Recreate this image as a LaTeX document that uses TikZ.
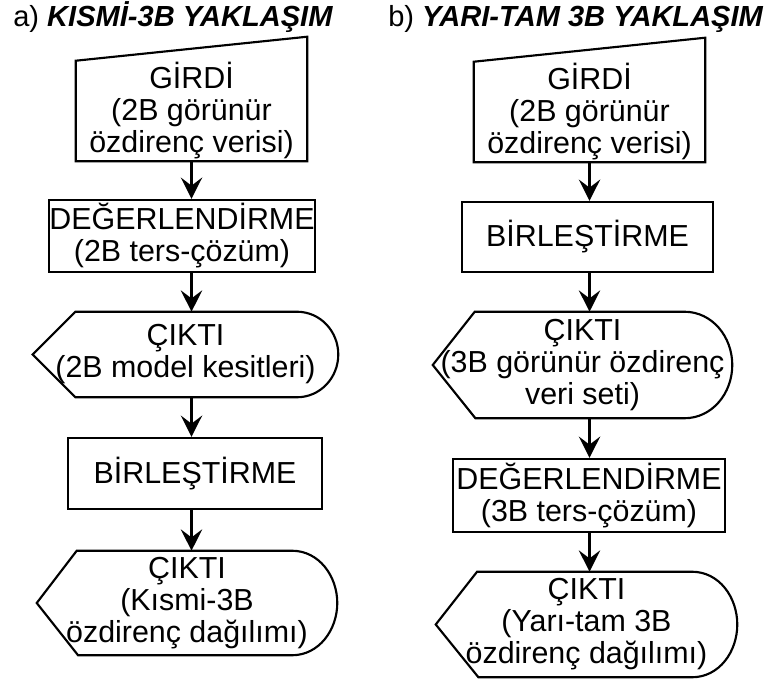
\documentclass[tikz,border=0pt]{standalone}
\usepackage{fontspec}
\setmainfont{Liberation Sans}
\usetikzlibrary{arrows.meta}

\begin{document}
\begin{tikzpicture}[x=0.75pt,y=0.75pt,
  txt/.style={font=\fontsize{22.8}{24}\selectfont, align=center, inner sep=0pt},
  ttl/.style={font=\fontsize{21.8}{24}\selectfont, inner sep=0pt, anchor=base west},
  procbox/.style={txt, draw, line width=1.6pt},
  outl/.style={line width=1.6pt},
  arr/.style={-{Stealth[length=16pt,width=16pt,inset=6pt]}, line width=1.6pt}]
\useasboundingbox (0,0) rectangle (773,680);
% titles
\node[ttl] (ta) at (13,653) {a) \textbf{\textit{KISMİ-3B YAKLAŞIM}}};
\node[ttl] (tb) at (388,653) {b) \textbf{\textit{YARI-TAM 3B YAKLAŞIM}}};
% a) kismi 3B
\node[txt, minimum width=173.25pt, minimum height=75pt] (g1) at (191.5,569) {GİRDİ\\(2B görünür\\özdirenç verisi)};
\node[procbox, minimum width=199.5pt, minimum height=54pt] (d1) at (182,444) {DEĞERLENDİRME\\(2B ters-çözüm)};
\node[txt, minimum width=228.75pt, minimum height=63.75pt] (c1) at (185.5,325.5) {ÇIKTI\\(2B model kesitleri)};
\node[procbox, minimum width=190.5pt, minimum height=53.25pt] (b1) at (195,206.5) {BİRLEŞTİRME};
\node[txt, minimum width=225pt, minimum height=78pt] (c2) at (187,77) {ÇIKTI\\(Kısmi-3B\\özdirenç dağılımı)};
% b) yari-tam 3B
\node[txt, minimum width=173.25pt, minimum height=75pt] (g2) at (589.5,568) {GİRDİ\\(2B görünür\\özdirenç verisi)};
\node[procbox, minimum width=188.25pt, minimum height=52.5pt] (b2) at (587.5,443) {BİRLEŞTİRME};
\node[txt, minimum width=224.25pt, minimum height=79.5pt] (c3) at (582.5,315) {ÇIKTI\\(3B görünür özdirenç\\veri seti)};
\node[procbox, minimum width=204pt, minimum height=54.75pt] (d2) at (589,184.5) {DEĞERLENDİRME\\(3B ters-çözüm)};
\node[txt, minimum width=225.75pt, minimum height=78.75pt] (c4) at (586.5,55.5) {ÇIKTI\\(Yarı-tam 3B\\özdirenç dağılımı)};
% girdi (manual input) outlines
\draw[outl] (g1.south west) -- (g1.north west) -- ([yshift=18pt]g1.north east) -- (g1.south east) -- cycle;
\draw[outl] (g2.south west) -- (g2.north west) -- ([yshift=18pt]g2.north east) -- (g2.south east) -- cycle;
% cikti (display) outlines
\draw[outl] (c1.west) -- ([xshift=32pt]c1.north west) -- ([xshift=-31pt]c1.north east) to[out=0,in=90] (c1.east) to[out=-90,in=0] ([xshift=-31pt]c1.south east) -- ([xshift=32pt]c1.south west) -- cycle;
\draw[outl] (c2.west) -- ([xshift=30pt]c2.north west) -- ([xshift=-34pt]c2.north east) to[out=0,in=90] (c2.east) to[out=-90,in=0] ([xshift=-34pt]c2.south east) -- ([xshift=31pt]c2.south west) -- cycle;
\draw[outl] (c3.west) -- ([xshift=31.5pt]c3.north west) -- ([xshift=-36pt]c3.north east) to[out=0,in=90] (c3.east) to[out=-90,in=0] ([xshift=-36pt]c3.south east) -- ([xshift=32pt]c3.south west) -- cycle;
\draw[outl] (c4.west) -- ([xshift=31pt]c4.north west) -- ([xshift=-34pt]c4.north east) to[out=0,in=90] (c4.east) to[out=-90,in=0] ([xshift=-34pt]c4.south east) -- ([xshift=32pt]c4.south west) -- cycle;
% arrows
\draw[arr] (g1.south) -- (d1.north -| g1);
\draw[arr] (d1.south -| g1) -- (c1.north -| g1);
\draw[arr] (c1.south -| g1) -- (b1.north -| g1);
\draw[arr] (b1.south -| g1) -- (c2.north -| g1);
\draw[arr] (g2.south) -- (b2.north -| g2);
\draw[arr] (b2.south -| g2) -- (c3.north -| g2);
\draw[arr] (c3.south -| g2) -- (d2.north -| g2);
\draw[arr] (d2.south -| g2) -- (c4.north -| g2);
\end{tikzpicture}
\end{document}
